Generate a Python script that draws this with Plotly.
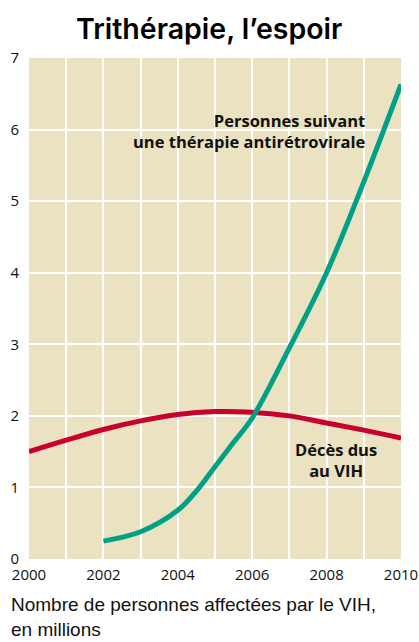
import plotly.graph_objects as go

# years and values (millions of people)
years_deces = [2000, 2001, 2002, 2003, 2004, 2005, 2006, 2007, 2008, 2009, 2010]
deces_vih = [1.50, 1.66, 1.81, 1.93, 2.02, 2.06, 2.05, 2.00, 1.90, 1.80, 1.69]

years_therapie = [2002, 2003, 2004, 2004.5, 2005, 2005.5, 2006, 2007, 2008, 2009, 2010]
therapie_arv = [0.25, 0.38, 0.68, 0.95, 1.29, 1.63, 1.97, 2.95, 4.00, 5.27, 6.63]

x_ticks = [2000, 2002, 2004, 2006, 2008, 2010]
y_ticks = [0, 1, 2, 3, 4, 5, 6, 7]

BEIGE = "#eae2c0"
RED = "#c8002d"
TEAL = "#00a086"


def build_figure():
    """
    Build the two-curve line chart (therapy vs deaths).
    """
    fig = go.Figure()
    fig.add_trace(go.Scatter(
        x=years_deces, y=deces_vih,
        mode="lines", line=dict(color=RED, width=5, shape="spline", smoothing=1.0),
        name="Décès dus au VIH", hoverinfo="skip"
    ))
    fig.add_trace(go.Scatter(
        x=years_therapie, y=therapie_arv,
        mode="lines", line=dict(color=TEAL, width=5, shape="spline", smoothing=1.0),
        name="Personnes suivant une thérapie antirétrovirale", hoverinfo="skip"
    ))

    fig.add_annotation(
        x=2009.09, y=5.98, xref="x", yref="y",
        text="Personnes suivant<br>une thérapie antirétrovirale",
        showarrow=False, xanchor="right", yanchor="middle", align="right",
        font=dict(family="Open Sans", size=16.5, color="#111111", weight="bold")
    )
    fig.add_annotation(
        x=2008.24, y=1.38, xref="x", yref="y",
        text="Décès dus<br>au VIH",
        showarrow=False, xanchor="center", yanchor="middle", align="center",
        font=dict(family="Open Sans", size=16.5, color="#111111", weight="bold")
    )

    fig.add_annotation(
        x=0.485, y=1, xref="paper", yref="paper", yshift=30,
        text="Trithérapie, l’espoir",
        showarrow=False, xanchor="center", yanchor="middle",
        font=dict(family="Inter", size=28.5, color="#000000", weight=600)
    )
    fig.add_annotation(
        x=0, y=0, xref="paper", yref="paper", xshift=-20, yshift=-58,
        text="Nombre de personnes affectées par le VIH,<br>en millions",
        showarrow=False, xanchor="left", yanchor="middle", align="left",
        font=dict(family="Liberation Sans", size=19, color="#111111")
    )

    fig.update_layout(
        width=419, height=642,
        margin=dict(l=29, r=18, t=58, b=83),
        paper_bgcolor="white", plot_bgcolor=BEIGE,
        showlegend=False,
        font=dict(family="Open Sans", size=15, color="#111111"),
    )
    fig.update_xaxes(
        range=[2000, 2010], tickvals=x_ticks, showgrid=True,
        gridcolor="white", gridwidth=1.5, zeroline=False,
        minor=dict(dtick=1, showgrid=True, gridcolor="white", gridwidth=1.5),
        ticks="", ticklabelstandoff=5, showline=False, automargin=False
    )
    fig.update_yaxes(
        range=[0, 7], tickvals=y_ticks, showgrid=True,
        gridcolor="white", gridwidth=1.5, zeroline=False,
        ticks="", ticklabelstandoff=9, showline=False, automargin=False
    )
    return fig


if __name__ == "__main__":
    fig = build_figure()
    # drop the default 8px body margin so the figure fills the window exactly
    fig.write_html("out.html",
                   config={"displayModeBar": False},
                   post_script="document.body.style.margin='0';"
                               "document.body.style.overflow='hidden';")
